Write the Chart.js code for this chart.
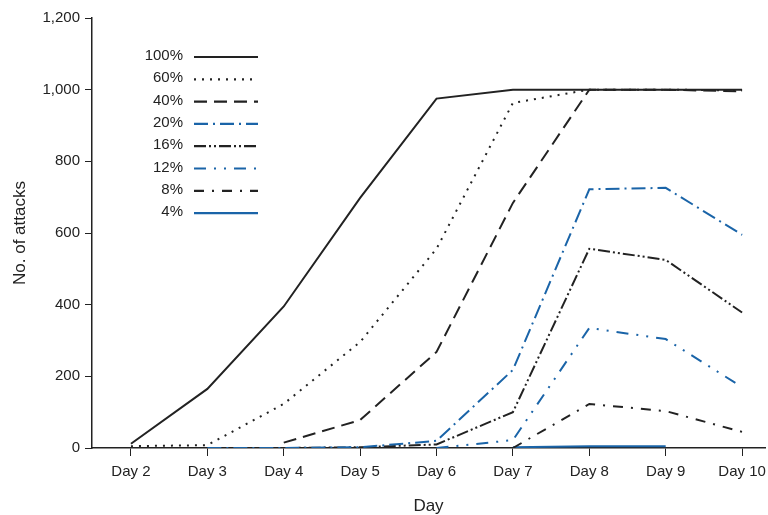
<!DOCTYPE html>
<html>
<head>
<meta charset="utf-8">
<script src="https://cdn.jsdelivr.net/npm/chart.js@4"></script>
<style>
  html, body { margin: 0; padding: 0; background: #fff; }
  #wrap { width: 768px; height: 515px; }
</style>
</head>
<body>
<div id="wrap"><canvas id="chart" width="768" height="515"></canvas></div>
<script>
// data
var categories = ['Day 2', 'Day 3', 'Day 4', 'Day 5', 'Day 6', 'Day 7', 'Day 8', 'Day 9', 'Day 10'];
var yTicks = [0, 200, 400, 600, 800, 1000, 1200];

var labels = ['100%', '60%', '40%', '20%', '16%', '12%', '8%', '4%'];
var p100 = [12, 165, 395, 698, 975, 1000, 1000, 1000, 1000];
var p60  = [5, 8, 123, 296, 556, 963, 1000, 1000, 998];
var p40  = [null, null, 15, 78, 268, 684, 1000, 1000, 995];
var p20  = [null, 0, 0, 2, 20, 218, 722, 726, 595];
var p16  = [null, null, 0, 2, 10, 100, 556, 525, 378];
var p12  = [null, null, null, null, 0, 22, 335, 304, 170];
var p8   = [null, null, null, null, null, 0, 123, 103, 45];
var p4   = [null, null, null, null, null, 2, 5, 5, null];

var BLACK = '#222222';
var BLUE = '#1a64a8';
var FONT = '"Liberation Sans", Arial, sans-serif';

var styles = [
  { color: BLACK, dash: [] },
  { color: BLACK, dash: [2, 6] },
  { color: BLACK, dash: [13, 7] },
  { color: BLUE,  dash: [14, 5, 2, 5] },
  { color: BLACK, dash: [12, 3, 2, 3, 2, 3] },
  { color: BLUE,  dash: [12, 8, 2, 8, 2, 8] },
  { color: BLACK, dash: [10, 8, 2, 8] },
  { color: BLUE,  dash: [] }
];

var series = [p100, p60, p40, p20, p16, p12, p8, p4];

function toPoints(arr) {
  return arr.map(function (v, i) { return { x: i + 2, y: v }; });
}

var datasets = series.map(function (arr, i) {
  return {
    label: labels[i],
    data: toPoints(arr),
    borderColor: styles[i].color,
    borderDash: styles[i].dash,
    borderWidth: 2,
    pointRadius: 0,
    fill: false,
    tension: 0,
    spanGaps: false
  };
});

// legend drawn like the original: label on the left, line sample on the right
var sideLegend = {
  id: 'sideLegend',
  afterDraw: function (chart) {
    var ctx = chart.ctx;
    ctx.save();
    ctx.font = '15px ' + FONT;
    ctx.textAlign = 'right';
    ctx.textBaseline = 'middle';
    chart.data.datasets.forEach(function (ds, i) {
      var y = 57 + i * 22.3;
      ctx.fillStyle = '#222';
      ctx.fillText(ds.label, 183, y - 1);
      ctx.strokeStyle = ds.borderColor;
      ctx.lineWidth = 2.2;
      ctx.setLineDash(ds.borderDash);
      ctx.beginPath();
      ctx.moveTo(194, y);
      ctx.lineTo(258, y);
      ctx.stroke();
    });
    ctx.restore();
  }
};

new Chart(document.getElementById('chart').getContext('2d'), {
  type: 'line',
  data: { datasets: datasets },
  plugins: [sideLegend],
  options: {
    responsive: false,
    animation: false,
    layout: { padding: { top: 18, right: 3, left: 0, bottom: 0 } },
    plugins: { legend: { display: false }, tooltip: { enabled: false } },
    scales: {
      x: {
        type: 'linear',
        min: 1.49,
        max: 10.3,
        afterBuildTicks: function (scale) {
          scale.ticks = categories.map(function (c, i) { return { value: i + 2 }; });
        },
        afterFit: function (scale) {
          scale.height = 67;
          scale.paddingLeft = 0;
          scale.paddingRight = 0;
        },
        grid: { display: true, drawOnChartArea: false, drawTicks: true, tickLength: 8, color: BLACK },
        border: { display: true, color: BLACK, width: 1.5 },
        ticks: {
          color: '#222',
          font: { family: FONT, size: 15 },
          padding: 7,
          maxRotation: 0,
          callback: function (v) { return categories[v - 2]; }
        },
        title: {
          display: true,
          text: 'Day',
          color: '#222',
          font: { family: FONT, size: 17, lineHeight: 1 },
          padding: { top: 10, bottom: 0 }
        }
      },
      y: {
        min: 0,
        max: 1200,
        afterBuildTicks: function (scale) {
          scale.ticks = yTicks.map(function (v) { return { value: v }; });
        },
        afterFit: function (scale) { scale.width = 92; },
        grid: { display: true, drawOnChartArea: false, drawTicks: true, tickLength: 7, color: BLACK },
        border: { display: true, color: BLACK, width: 1.5 },
        ticks: {
          color: '#222',
          font: { family: FONT, size: 15 },
          padding: 5,
          callback: function (v) { return v.toLocaleString('en-US'); }
        },
        title: {
          display: true,
          text: 'No. of attacks',
          color: '#222',
          font: { family: FONT, size: 17 },
          padding: { top: 10, bottom: 4 }
        }
      }
    }
  }
});
</script>
</body>
</html>
